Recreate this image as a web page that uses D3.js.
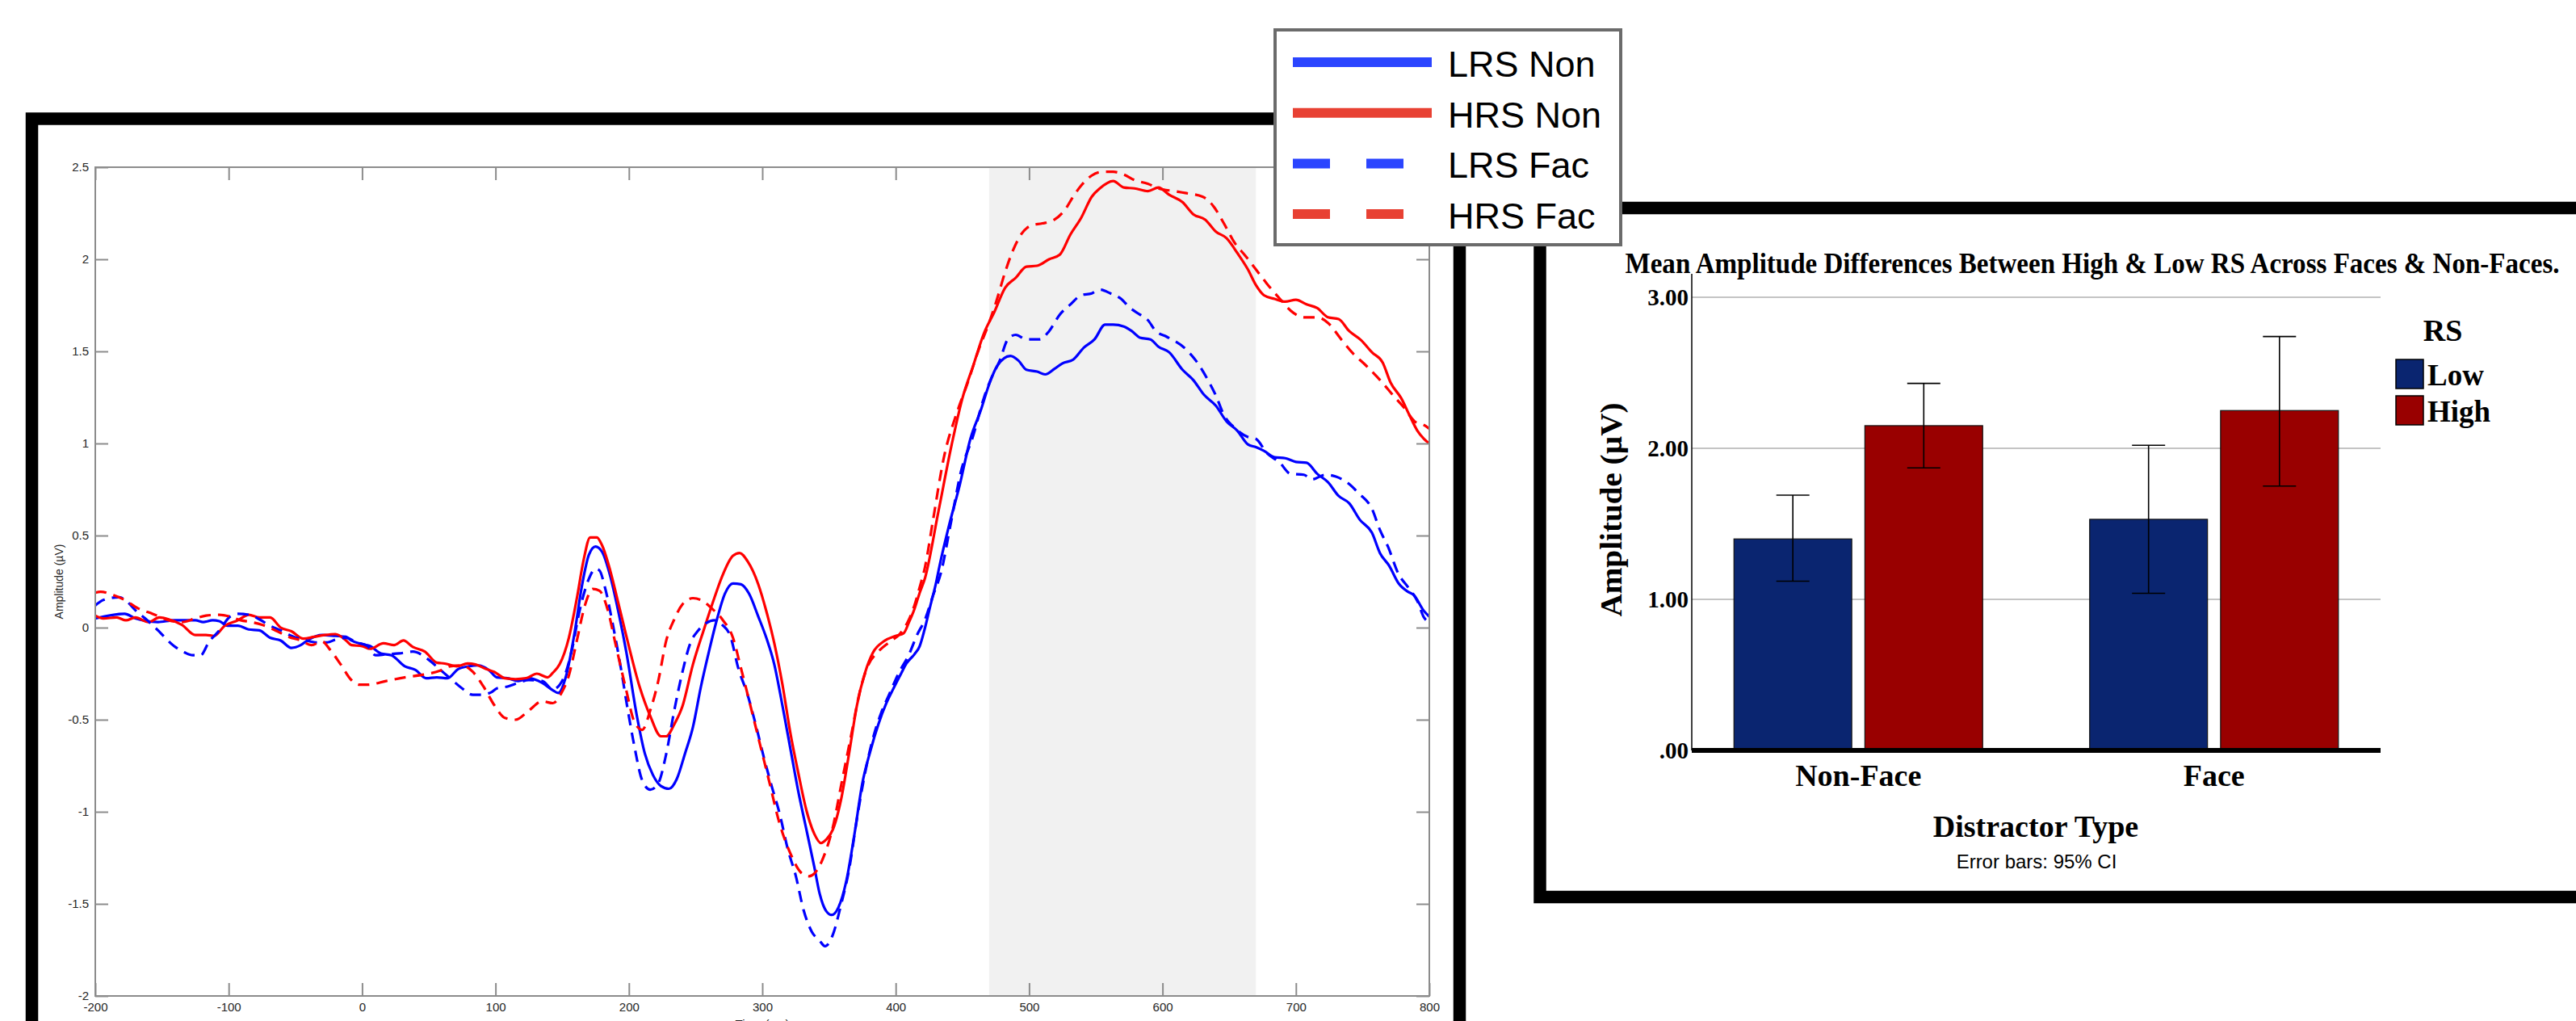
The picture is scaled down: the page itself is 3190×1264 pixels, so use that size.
<!DOCTYPE html>
<html>
<head>
<meta charset="utf-8">
<script src="https://cdn.jsdelivr.net/npm/d3@7"></script>
<style>
  body { margin: 0; background: #fff; }
  svg { display: block; }
</style>
</head>
<body>
<div id="chart"></div>
<script>
// ERP kurve: [čas v ms, amplituda v µV], odčitano s slike
const lrsNon = [[-200,0.05],[-178,0.075],[-170,0.05],[-153,0.03],[-141,0.04],[-125,0.04],[-119,0.03],[-112,0.04],[-107,0.035],[-101,0.01],[-93,0.01],[-85,-0.01],[-77,-0.015],[-69,-0.055],[-61,-0.07],[-53,-0.11],[-46,-0.095],[-40,-0.065],[-30,-0.04],[-20,-0.045],[-12,-0.05],[-8,-0.07],[0,-0.09],[6,-0.10],[14,-0.14],[22,-0.15],[32,-0.21],[40,-0.23],[48,-0.275],[56,-0.27],[64,-0.275],[72,-0.225],[80,-0.21],[87,-0.205],[95,-0.23],[101,-0.27],[109,-0.275],[117,-0.29],[125,-0.275],[135,-0.30],[143,-0.34],[147,-0.355],[153,-0.26],[159,-0.04],[165,0.235],[170,0.395],[175,0.44],[180,0.41],[186,0.28],[192,0.09],[198,-0.13],[206,-0.48],[212,-0.685],[218,-0.80],[224,-0.86],[230,-0.875],[236,-0.82],[242,-0.685],[248,-0.54],[254,-0.32],[260,-0.13],[266,0.045],[272,0.185],[278,0.24],[284,0.235],[290,0.185],[297,0.06],[303,-0.055],[309,-0.2],[315,-0.42],[321,-0.655],[327,-0.89],[333,-1.095],[339,-1.30],[343,-1.445],[348,-1.54],[352,-1.56],[357,-1.52],[363,-1.375],[369,-1.125],[375,-0.845],[381,-0.67],[387,-0.525],[393,-0.41],[398,-0.335],[404,-0.25],[408,-0.195],[414,-0.145],[418,-0.10],[422,0.0],[426,0.12],[430,0.235],[433,0.34],[440,0.555],[448,0.775],[456,1.025],[464,1.185],[470,1.32],[476,1.42],[486,1.475],[492,1.45],[498,1.40],[506,1.39],[512,1.375],[519,1.405],[525,1.435],[533,1.455],[541,1.52],[549,1.565],[557,1.645],[563,1.645],[571,1.635],[577,1.61],[583,1.575],[591,1.565],[597,1.525],[605,1.495],[615,1.40],[623,1.345],[631,1.265],[640,1.205],[648,1.12],[656,1.07],[664,0.995],[670,0.98],[676,0.96],[684,0.925],[692,0.92],[700,0.90],[708,0.895],[716,0.835],[724,0.79],[732,0.715],[740,0.675],[748,0.585],[757,0.515],[763,0.405],[770,0.335],[777,0.24],[784,0.195],[788,0.18],[796,0.09],[800,0.06]];

const hrsNon = [[-200,0.065],[-194,0.05],[-184,0.055],[-177,0.04],[-170,0.055],[-160,0.03],[-152,0.055],[-145,0.045],[-135,0.015],[-125,-0.04],[-117,-0.04],[-111,-0.045],[-103,0.01],[-93,0.04],[-85,0.07],[-77,0.055],[-69,0.055],[-61,0.0],[-53,-0.02],[-44,-0.06],[-36,-0.05],[-28,-0.04],[-20,-0.035],[-12,-0.07],[-8,-0.095],[0,-0.10],[6,-0.115],[16,-0.085],[24,-0.095],[31,-0.07],[38,-0.105],[47,-0.13],[56,-0.19],[62,-0.195],[71,-0.21],[79,-0.195],[85,-0.20],[93,-0.225],[99,-0.24],[107,-0.275],[115,-0.28],[123,-0.275],[131,-0.25],[139,-0.27],[143,-0.245],[148,-0.20],[155,-0.055],[161,0.16],[166,0.365],[171,0.49],[176,0.49],[180,0.445],[186,0.31],[192,0.135],[198,-0.043],[208,-0.32],[216,-0.48],[224,-0.59],[228,-0.59],[234,-0.525],[240,-0.43],[248,-0.20],[256,-0.015],[264,0.16],[270,0.28],[278,0.39],[283,0.405],[289,0.36],[297,0.235],[303,0.09],[309,-0.085],[315,-0.305],[321,-0.57],[327,-0.79],[333,-0.99],[339,-1.12],[344,-1.17],[348,-1.15],[353,-1.095],[359,-0.935],[365,-0.685],[371,-0.42],[377,-0.245],[383,-0.135],[391,-0.075],[400,-0.045],[406,-0.03],[410,0.03],[414,0.10],[418,0.19],[422,0.27],[432,0.63],[442,0.995],[450,1.245],[458,1.42],[466,1.595],[474,1.715],[482,1.845],[490,1.90],[498,1.96],[506,1.965],[515,2.0],[523,2.025],[531,2.135],[539,2.225],[547,2.34],[553,2.385],[563,2.425],[571,2.39],[579,2.385],[589,2.37],[597,2.39],[605,2.35],[615,2.31],[623,2.245],[632,2.215],[640,2.15],[648,2.115],[656,2.035],[664,1.945],[670,1.86],[676,1.805],[684,1.785],[692,1.77],[700,1.78],[708,1.755],[716,1.735],[724,1.685],[732,1.675],[740,1.61],[749,1.56],[757,1.495],[765,1.44],[771,1.33],[779,1.245],[785,1.155],[791,1.07],[796,1.025],[800,1.0]];

const lrsFac = [[-200,0.12],[-194,0.15],[-182,0.165],[-176,0.14],[-170,0.095],[-161,0.04],[-153,-0.015],[-141,-0.10],[-133,-0.135],[-127,-0.15],[-121,-0.15],[-115,-0.08],[-107,-0.015],[-99,0.06],[-93,0.075],[-85,0.07],[-77,0.045],[-69,0.01],[-61,-0.015],[-53,-0.045],[-42,-0.07],[-34,-0.08],[-26,-0.08],[-20,-0.065],[-12,-0.055],[-4,-0.08],[4,-0.10],[10,-0.15],[18,-0.145],[28,-0.14],[38,-0.13],[50,-0.175],[58,-0.225],[66,-0.275],[75,-0.33],[83,-0.365],[89,-0.365],[97,-0.35],[101,-0.33],[109,-0.32],[117,-0.30],[125,-0.285],[135,-0.29],[143,-0.335],[151,-0.275],[157,-0.13],[163,0.09],[170,0.265],[175,0.32],[178,0.31],[182,0.22],[188,0.015],[194,-0.22],[199,-0.44],[204,-0.64],[210,-0.83],[216,-0.88],[222,-0.845],[228,-0.685],[234,-0.45],[240,-0.245],[246,-0.085],[252,-0.015],[258,0.025],[264,0.04],[270,0.015],[276,-0.045],[282,-0.22],[289,-0.365],[295,-0.525],[301,-0.70],[307,-0.86],[313,-1.01],[319,-1.20],[325,-1.345],[331,-1.535],[337,-1.65],[343,-1.70],[347,-1.73],[353,-1.665],[359,-1.505],[365,-1.315],[371,-1.035],[377,-0.79],[383,-0.60],[389,-0.465],[395,-0.365],[402,-0.25],[410,-0.145],[416,-0.04],[422,0.045],[428,0.175],[434,0.30],[441,0.555],[449,0.85],[458,1.04],[466,1.245],[472,1.36],[478,1.45],[484,1.565],[490,1.59],[498,1.565],[508,1.565],[515,1.61],[523,1.70],[531,1.755],[539,1.805],[547,1.815],[553,1.835],[561,1.815],[569,1.785],[575,1.74],[583,1.70],[589,1.67],[595,1.61],[603,1.58],[617,1.515],[625,1.45],[634,1.345],[640,1.26],[646,1.155],[654,1.085],[664,1.035],[670,1.025],[678,0.95],[688,0.895],[696,0.835],[706,0.83],[712,0.805],[722,0.83],[730,0.82],[738,0.79],[747,0.73],[757,0.645],[763,0.53],[769,0.44],[777,0.29],[784,0.22],[791,0.145],[796,0.055],[800,0.03]];

const hrsFac = [[-200,0.19],[-196,0.195],[-186,0.175],[-178,0.15],[-168,0.105],[-157,0.075],[-145,0.04],[-135,0.03],[-125,0.05],[-117,0.065],[-107,0.07],[-99,0.06],[-91,0.04],[-83,0.03],[-75,0.015],[-65,-0.015],[-55,-0.05],[-46,-0.07],[-38,-0.095],[-30,-0.075],[-24,-0.12],[-16,-0.20],[-8,-0.285],[-2,-0.31],[4,-0.31],[18,-0.29],[32,-0.27],[46,-0.255],[58,-0.235],[66,-0.21],[75,-0.205],[83,-0.24],[91,-0.32],[99,-0.42],[107,-0.49],[115,-0.50],[125,-0.45],[135,-0.40],[143,-0.41],[149,-0.36],[155,-0.26],[161,-0.07],[167,0.12],[173,0.21],[178,0.20],[184,0.10],[190,-0.09],[198,-0.34],[204,-0.51],[210,-0.555],[216,-0.45],[222,-0.29],[228,-0.07],[234,0.045],[240,0.125],[248,0.16],[254,0.15],[262,0.105],[270,0.045],[278,-0.055],[284,-0.22],[292,-0.45],[299,-0.655],[305,-0.83],[313,-1.065],[321,-1.225],[329,-1.33],[335,-1.35],[339,-1.335],[347,-1.225],[353,-1.08],[359,-0.86],[367,-0.57],[373,-0.35],[379,-0.21],[387,-0.13],[395,-0.08],[403,-0.035],[410,0.045],[414,0.12],[418,0.22],[422,0.33],[428,0.585],[436,0.92],[446,1.17],[454,1.33],[462,1.505],[470,1.655],[476,1.785],[482,1.93],[488,2.05],[494,2.135],[502,2.185],[510,2.195],[519,2.215],[527,2.27],[533,2.34],[539,2.40],[547,2.455],[555,2.475],[563,2.475],[571,2.46],[579,2.43],[589,2.41],[597,2.385],[609,2.37],[617,2.36],[630,2.34],[638,2.29],[646,2.195],[654,2.09],[662,2.02],[670,1.945],[678,1.87],[688,1.785],[698,1.71],[706,1.685],[716,1.685],[724,1.655],[734,1.565],[742,1.495],[753,1.42],[763,1.345],[773,1.26],[781,1.195],[789,1.12],[796,1.10],[800,1.08]];

const erpNames = ["LRS Non", "HRS Non", "LRS Fac", "HRS Fac"];
const erpTimeTicks = [-200, -100, 0, 100, 200, 300, 400, 500, 600, 700, 800];
const erpAmpTicks = [-2, -1.5, -1, -0.5, 0, 0.5, 1, 1.5, 2, 2.5];
const analysisWindow = [470, 670];

// Stolpčni graf
const categories = ["Non-Face", "Face"];
const rsGroups = ["Low", "High"];
const lowMeans = [1.40, 1.53];
const highMeans = [2.15, 2.25];
const lowCI = [[1.12, 1.69], [1.04, 2.02]];
const highCI = [[1.87, 2.43], [1.75, 2.74]];
const barTicks = [0, 1, 2, 3];

const width = 3190;
const height = 1264;

const svg = d3.select("#chart").append("svg")
    .attr("width", width)
    .attr("height", height)
    .attr("viewBox", [0, 0, width, height]);

// ---------- levi panel (ERP) ----------
const narrow = "'Liberation Sans Narrow', 'Arial Narrow', 'Liberation Sans', sans-serif";

svg.append("rect")
    .attr("x", 39.5).attr("y", 147)
    .attr("width", 1768).attr("height", 1300)
    .attr("fill", "#fff")
    .attr("stroke", "#000")
    .attr("stroke-width", 15.5);

const x = d3.scaleLinear().domain([-200, 800]).range([118, 1770]);
const y = d3.scaleLinear().domain([-2, 2.5]).range([1233, 207]);

svg.append("rect")
    .attr("x", x(analysisWindow[0]))
    .attr("y", y(2.5))
    .attr("width", x(analysisWindow[1]) - x(analysisWindow[0]))
    .attr("height", y(-2) - y(2.5))
    .attr("fill", "#f1f1f1");

const line = d3.line()
    .x(d => x(d[0]))
    .y(d => y(d[1]))
    .curve(d3.curveMonotoneX);

const erpSeries = [
    { name: erpNames[0], data: lrsNon, color: "#0000ff", dash: null },
    { name: erpNames[1], data: hrsNon, color: "#ff0000", dash: null },
    { name: erpNames[2], data: lrsFac, color: "#0000ff", dash: "14,9" },
    { name: erpNames[3], data: hrsFac, color: "#ff0000", dash: "14,9" }
];

svg.append("g")
    .selectAll("path")
    .data(erpSeries)
    .join("path")
    .attr("fill", "none")
    .attr("stroke", d => d.color)
    .attr("stroke-width", 3.2)
    .attr("stroke-linejoin", "round")
    .attr("stroke-dasharray", d => d.dash)
    .attr("d", d => line(d.data));

// okvir in osi
const axisColor = "#8c8c8c";
svg.append("rect")
    .attr("x", 118).attr("y", 207)
    .attr("width", 1652).attr("height", 1026)
    .attr("fill", "none")
    .attr("stroke", axisColor)
    .attr("stroke-width", 2);

function styleAxis(g) {
    g.select(".domain").remove();
    g.selectAll(".tick line").attr("stroke", axisColor).attr("stroke-width", 2);
    g.selectAll("text")
        .attr("fill", "#262626")
        .style("font-family", narrow)
        .style("font-size", "15px");
}

svg.append("g")
    .attr("transform", `translate(0,${y(-2)})`)
    .call(d3.axisBottom(x).tickValues(erpTimeTicks).tickSizeInner(-16).tickSizeOuter(0).tickPadding(8).tickFormat(d => String(d)))
    .call(styleAxis);

svg.append("g")
    .attr("transform", `translate(0,${y(2.5)})`)
    .call(d3.axisTop(x).tickValues(erpTimeTicks).tickSizeInner(-16).tickSizeOuter(0).tickFormat(""))
    .call(styleAxis);

svg.append("g")
    .attr("transform", `translate(${x(-200)},0)`)
    .call(d3.axisLeft(y).tickValues(erpAmpTicks).tickSizeInner(-16).tickSizeOuter(0).tickPadding(8).tickFormat(d => String(d)))
    .call(styleAxis);

svg.append("g")
    .attr("transform", `translate(${x(800)},0)`)
    .call(d3.axisRight(y).tickValues(erpAmpTicks).tickSizeInner(-16).tickSizeOuter(0).tickFormat(""))
    .call(styleAxis);

svg.append("text")
    .attr("transform", `translate(78,720) rotate(-90)`)
    .attr("text-anchor", "middle")
    .attr("fill", "#262626")
    .style("font-family", "'Liberation Sans', sans-serif")
    .style("font-size", "14px")
    .text("Amplitude (µV)");

svg.append("text")
    .attr("x", (x(-200) + x(800)) / 2)
    .attr("y", 1273)
    .attr("text-anchor", "middle")
    .attr("fill", "#262626")
    .style("font-family", narrow)
    .style("font-size", "15px")
    .text("Time (ms)");

// ---------- desni panel (stolpci) ----------
const serif = "'Liberation Serif', 'Times New Roman', serif";

svg.append("rect")
    .attr("x", 1907).attr("y", 257.5)
    .attr("width", 1400).attr("height", 853)
    .attr("fill", "#fff")
    .attr("stroke", "#000")
    .attr("stroke-width", 15.5);

const yb = d3.scaleLinear().domain([0, 3]).range([929, 368]);
const x0 = d3.scaleBand().domain(categories).range([2081, 2962]);
const x1 = d3.scaleBand().domain(rsGroups)
    .range([x0.bandwidth() / 2 - 154, x0.bandwidth() / 2 + 154])
    .paddingInner(0.1);
const barColor = d3.scaleOrdinal().domain(rsGroups).range(["#0a2570", "#990000"]);

svg.append("g")
    .selectAll("line")
    .data(barTicks.filter(d => d > 0))
    .join("line")
    .attr("x1", 2095).attr("x2", 2948)
    .attr("y1", d => yb(d)).attr("y2", d => yb(d))
    .attr("stroke", "#c4c4c4")
    .attr("stroke-width", 2);

svg.append("line")
    .attr("x1", 2095).attr("x2", 2095)
    .attr("y1", 339).attr("y2", yb(0))
    .attr("stroke", "#000")
    .attr("stroke-width", 1.5);

const barData = categories.flatMap((c, i) => [
    { cat: c, group: rsGroups[0], value: lowMeans[i], ci: lowCI[i] },
    { cat: c, group: rsGroups[1], value: highMeans[i], ci: highCI[i] }
]);

svg.append("g")
    .selectAll("rect")
    .data(barData)
    .join("rect")
    .attr("x", d => x0(d.cat) + x1(d.group))
    .attr("y", d => yb(d.value))
    .attr("width", x1.bandwidth())
    .attr("height", d => yb(0) - yb(d.value))
    .attr("fill", d => barColor(d.group))
    .attr("stroke", "#111")
    .attr("stroke-width", 1.2);

// intervali zaupanja
const eb = svg.append("g")
    .attr("stroke", "#000")
    .attr("stroke-width", 1.6)
    .selectAll("g")
    .data(barData)
    .join("g")
    .attr("transform", d => `translate(${x0(d.cat) + x1(d.group) + x1.bandwidth() / 2},0)`);
eb.append("line").attr("y1", d => yb(d.ci[0])).attr("y2", d => yb(d.ci[1]));
eb.append("line").attr("x1", -20.5).attr("x2", 20.5).attr("y1", d => yb(d.ci[0])).attr("y2", d => yb(d.ci[0]));
eb.append("line").attr("x1", -20.5).attr("x2", 20.5).attr("y1", d => yb(d.ci[1])).attr("y2", d => yb(d.ci[1]));

svg.append("line")
    .attr("x1", 2095).attr("x2", 2948)
    .attr("y1", yb(0)).attr("y2", yb(0))
    .attr("stroke", "#000")
    .attr("stroke-width", 6);

svg.append("g")
    .attr("transform", "translate(2095,0)")
    .call(d3.axisLeft(yb).tickValues(barTicks).tickSize(0).tickPadding(4)
        .tickFormat(d => d3.format(".2f")(d).replace(/^0/, "")))
    .call(g => g.select(".domain").remove())
    .call(g => g.selectAll("text")
        .attr("fill", "#000")
        .style("font-family", serif)
        .style("font-weight", "bold")
        .style("font-size", "29px"));

svg.append("g")
    .attr("transform", `translate(0,${yb(0)})`)
    .call(d3.axisBottom(x0).tickSize(0).tickPadding(17))
    .call(g => g.select(".domain").remove())
    .call(g => g.selectAll("text")
        .attr("fill", "#000")
        .style("font-family", serif)
        .style("font-weight", "bold")
        .style("font-size", "38px"));

svg.append("text")
    .attr("x", 2591).attr("y", 338)
    .attr("text-anchor", "middle")
    .attr("textLength", 1157)
    .attr("lengthAdjust", "spacingAndGlyphs")
    .style("font-family", serif)
    .style("font-weight", "bold")
    .style("font-size", "35px")
    .text("Mean Amplitude Differences Between High & Low RS Across Faces & Non-Faces.");

svg.append("text")
    .attr("transform", "translate(2008,631) rotate(-90)")
    .attr("text-anchor", "middle")
    .attr("textLength", 265)
    .attr("lengthAdjust", "spacingAndGlyphs")
    .style("font-family", serif)
    .style("font-weight", "bold")
    .style("font-size", "37px")
    .text("Amplitude (µV)");

svg.append("text")
    .attr("x", 2521).attr("y", 1036)
    .attr("text-anchor", "middle")
    .style("font-family", serif)
    .style("font-weight", "bold")
    .style("font-size", "38px")
    .text("Distractor Type");

svg.append("text")
    .attr("x", 2522).attr("y", 1075)
    .attr("text-anchor", "middle")
    .style("font-family", narrow)
    .style("font-size", "24px")
    .text("Error bars: 95% CI");

// legenda RS
svg.append("text")
    .attr("x", 3025).attr("y", 422)
    .attr("text-anchor", "middle")
    .style("font-family", serif)
    .style("font-weight", "bold")
    .style("font-size", "38px")
    .text("RS");

const rsLeg = svg.append("g")
    .selectAll("g")
    .data(rsGroups)
    .join("g")
    .attr("transform", (d, i) => `translate(2967,${445 + i * 45})`);
rsLeg.append("rect")
    .attr("width", 34).attr("height", 36)
    .attr("fill", d => barColor(d))
    .attr("stroke", "#000")
    .attr("stroke-width", 1.5);
rsLeg.append("text")
    .attr("x", 39).attr("y", 32)
    .style("font-family", serif)
    .style("font-weight", "bold")
    .style("font-size", "37px")
    .text(d => d);

// ---------- legenda ERP (nad obema panelima) ----------
svg.append("rect")
    .attr("x", 1579).attr("y", 37)
    .attr("width", 428).attr("height", 266)
    .attr("fill", "#fff")
    .attr("stroke", "#6b6b6b")
    .attr("stroke-width", 4);

const legendColors = ["#2b45ff", "#e84133", "#2b45ff", "#e84133"];
const leg = svg.append("g")
    .selectAll("g")
    .data(erpSeries)
    .join("g")
    .attr("transform", (d, i) => `translate(0,${77 + i * 62.7})`);
leg.append("line")
    .attr("x1", 1601).attr("x2", 1773)
    .attr("stroke", (d, i) => legendColors[i])
    .attr("stroke-width", 12)
    .attr("stroke-dasharray", d => d.dash ? "46,45" : null);
leg.append("text")
    .attr("x", 1793).attr("y", 18)
    .style("font-family", "'Liberation Sans', Arial, sans-serif")
    .style("font-size", "45px")
    .attr("fill", "#000")
    .text(d => d.name);
</script>
</body>
</html>
